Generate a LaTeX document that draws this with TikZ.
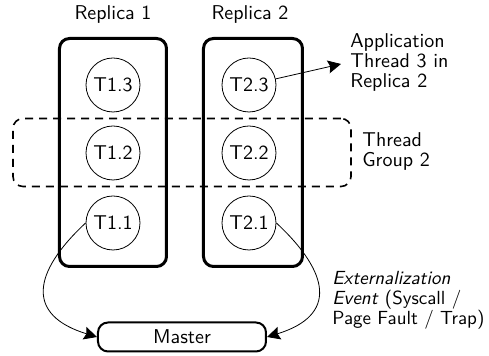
\documentclass[tikz,border=0pt]{standalone}
\usepackage{tikz}
\usetikzlibrary{arrows.meta,arrows}
\usetikzlibrary{positioning}

\begin{document}
\begin{tikzpicture}[x=0.5pt,y=0.5pt,font=\sffamily]
        \useasboundingbox (0,0) rectangle (489,356);

        % replicas
        \begin{scope}[every node/.style={draw,line width=1.5pt,rounded corners=5pt,minimum height=114pt}]
            \node[minimum width=53.5pt] (R1) at (113,203.5) {};
            \node[minimum width=49.5pt] (R2) at (253,203.5) {};
        \end{scope}
        \node (L1) at (113,341) {Replica 1};
        \node (L2) at (250,341) {Replica 2};

        % thread group
        \node[draw,thick,dashed,dash pattern=on 4pt off 3pt,rounded corners=5pt,
            minimum width=169pt,minimum height=34pt] (G2) at (182,203.5) {};

        \begin{scope}[every node/.style={circle,draw,minimum size=27pt,inner sep=1pt}]
            \node (T13) at (113,271) {T1.3};
            \node (T12) at (113,203) {T1.2};
            \node (T11) at (113,133) {T1.1};
            \node (T23) at (249,271) {T2.3};
            \node (T22) at (249,203) {T2.2};
            \node (T21) at (249,133) {T2.1};
        \end{scope}

        \node[draw,line width=1pt,rounded corners=5pt,minimum width=84pt,minimum height=14.5pt] (M) at (182,19) {Master};

        \begin{scope}[every node/.style={anchor=west,align=left,inner sep=0pt,font=\sffamily\fontsize{10}{10}\selectfont}]
            \node (App) at (350,293) {Application\\Thread 3 in\\Replica 2};
            \node (Grp) at (362,204) {Thread\\Group 2};
            \node[font=\sffamily\fontsize{9.5}{10}\selectfont] (Ext) at (332,56) {\textit{Externalization}\\\textit{Event} (Syscall /\\Page Fault / Trap)};
        \end{scope}
        \coordinate (A23) at (341,292);

        \begin{scope}[>={Stealth[length=6.5pt,width=6.5pt,inset=1pt]}]
            \draw[->] (T23) -- (A23);
            \path[->] (T11.west) edge[out=223,in=163,looseness=1.65] (M.west);
            \path[->] (T21.east) edge[out=-43,in=17,looseness=1.65] (M.east);
        \end{scope}
    \end{tikzpicture}
\end{document}
